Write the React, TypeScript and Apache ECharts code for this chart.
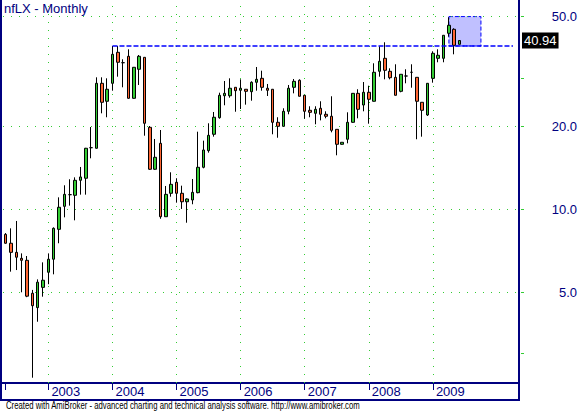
import React, { useEffect, useRef } from "react";
import * as echarts from "echarts";

// ---- data ----
const START_YEAR = 2002;
const START_MONTH = 5;
const MONTH_COUNT = 97; // axis runs past the data, like the reference
const LAST_LABEL_YEAR = "2009";
const categories: string[] = [];
for (let i = 0; i < MONTH_COUNT; i++) {
  const m = START_MONTH - 1 + i;
  const y = START_YEAR + Math.floor(m / 12);
  const mm = (m % 12) + 1;
  categories.push(`${y}-${String(mm).padStart(2, "0")}`);
}

const opens = [
  8.11, 7.53, 6.98, 6.64, 6.53, 4.96, 4.4, 5.21, 5.91, 6.59, 8.46, 10.25,
  11.3, 11.24, 12.74, 12.96, 16.73, 16.65, 28.64, 24.65,
  28.64, 37.1, 34.02, 35.89, 25.27, 32.2, 35.58, 19.83, 13.97, 17.35, 9.4, 11.43,
  12.53, 11.43, 10.65, 10.81, 11.49, 14.2, 16.32, 18.71, 21.49, 25.82, 25.82, 27.7,
  27.02, 27.25, 26.7, 28.88, 29.86, 27.48, 27.25, 20.68, 20.0, 22.67, 27.7, 29.37,
  25.91, 22.86, 22.29, 23.25, 22.11, 21.75, 19.5, 17.21, 17.95, 20.68, 26.34, 23.89,
  26.57, 24.65, 31.66, 35.29, 31.66, 30.11, 26.79, 30.44, 31.4, 30.11, 24.44, 21.98,
  29.86, 35.29, 35.29, 43.49, 44.97, 39.67,
];
const closes = [
  7.53, 6.98, 6.7, 6.53, 4.84, 4.47, 5.44, 5.53, 6.59, 8.53, 10.17, 11.33,
  11.3, 12.74, 13.1, 16.65, 16.73, 28.64, 24.44, 27.25,
  36.49, 34.14, 34.02, 25.27, 32.74, 35.89, 20.51, 13.97, 15.44, 9.4, 11.33, 12.32,
  11.43, 10.65, 10.9, 11.52, 14.2, 16.41, 18.55, 21.57, 25.91, 26.34, 27.48, 26.93,
  27.48, 26.79, 28.88, 29.61, 27.7, 27.02, 20.68, 20.0, 22.67, 27.48, 29.12, 25.7,
  22.67, 22.48, 23.05, 22.11, 21.75, 19.34, 17.21, 17.5, 20.68, 26.34, 23.05, 26.57,
  25.06, 31.4, 34.42, 31.93, 30.01, 25.91, 30.88, 30.44, 31.4, 24.65, 22.86, 28.64,
  36.8, 36.19, 42.77, 46.5, 39.34, 40.94,
];
const lows = [
  7.5, 5.94, 6.02, 5.0, 4.8, 2.45, 3.91, 4.82, 5.35, 5.81, 7.53, 9.35,
  10.31, 9.12, 11.3, 11.3, 15.31, 16.6, 22.29, 21.57,
  26.93, 30.27, 27.7, 25.2, 25.2, 28.24, 18.49, 13.9, 13.9, 9.24, 9.4, 11.11,
  10.57, 10.03, 8.94, 10.43, 11.43, 14.08, 16.05, 18.34, 21.31, 23.84, 25.4, 22.59,
  23.11, 23.96, 24.77, 26.93, 26.93, 25.76, 18.71, 18.18, 20.0, 22.11, 26.34, 25.7,
  21.31, 21.57, 20.34, 21.02, 21.38, 19.02, 15.7, 17.15, 17.35, 20.6, 21.38, 22.67,
  20.44, 24.6, 30.27, 29.61, 29.61, 25.9, 26.57, 28.64, 27.61, 17.95, 18.34, 21.8,
  28.79, 34.14, 34.14, 42.27, 36.49, 39.67,
];
const highs = [
  8.2, 8.53, 9.07, 6.92, 6.77, 5.1, 5.57, 6.42, 6.92, 8.6, 11.05, 12.22,
  12.85, 13.06, 14.24, 16.7, 19.88, 30.11, 30.11, 29.86,
  39.11, 39.11, 35.0, 38.04, 32.8, 36.28, 35.6, 20.05, 17.99, 19.39, 12.15, 13.62,
  12.96, 12.18, 10.96, 12.88, 19.12, 17.74, 20.51, 22.54, 26.48, 29.2, 29.86, 27.7,
  29.61, 27.3, 29.12, 32.82, 31.82, 28.48, 27.3, 21.57, 23.25, 28.24, 29.69, 29.61,
  25.91, 23.64, 23.64, 24.65, 22.67, 25.7, 19.5, 17.5, 22.48, 26.4, 27.25, 28.95,
  28.07, 33.85, 39.01, 40.34, 32.46, 33.57, 30.9, 32.2, 33.57, 30.11, 24.44, 28.7,
  37.42, 38.04, 42.8, 49.71, 45.35, 40.94,
];

const gridValues = [5, 10, 20, 50];
const tickValues = [3, 5, 10, 20, 30, 50];
const yearMarks = ["2003-01", "2004-01", "2005-01", "2006-01", "2007-01", "2008-01", "2009-01"];
const resistanceLevel = 39.11;
const resistanceFrom = "2004-01";
const resistanceTo = "2010-04";
const lastClose = 40.94;
const boxTop = 50;
const boxFrom = "2009-04";
const boxTo = "2009-10";
const Y_MIN = 2.344;
const Y_MAX = 57.43;

const TITLE = "nfLX - Monthly";
const FOOTER =
  "Created with AmiBroker - advanced charting and technical analysis software. http://www.amibroker.com";

const NAVY = "#000080";
const GREEN = "#33cc33";
const FONT = '"Liberation Sans", Arial, sans-serif';

export default function App() {
  const ref = useRef<HTMLDivElement>(null);
  useEffect(() => {
    if (!ref.current) return;
    const chart = echarts.init(ref.current, undefined, { renderer: "svg" });
    const candles = opens.map((o, i) => [o, closes[i], lows[i], highs[i]]);
    const isYearLabel = (_: number, v: string) =>
      v.endsWith("-01") && v.slice(0, 4) <= LAST_LABEL_YEAR;
    chart.setOption({
      animation: false,
      backgroundColor: "#ffffff",
      grid: { left: 3, top: 0, width: 518.1, height: 383, containLabel: false },
      xAxis: {
        type: "category",
        data: categories,
        boundaryGap: true,
        axisLine: { show: false },
        axisTick: {
          show: true,
          alignWithLabel: true,
          interval: (i: number, v: string) => i === 0 || isYearLabel(i, v),
          length: 7,
          lineStyle: { color: NAVY, width: 1 },
        },
        axisLabel: {
          interval: isYearLabel,
          formatter: (v: string) => v.slice(0, 4),
          align: "left",
          padding: [0, 0, 0, 3],
          margin: 2,
          color: NAVY,
          fontSize: 13,
          fontFamily: FONT,
        },
        splitLine: { show: false },
      },
      yAxis: [
        {
          type: "log",
          logBase: 10,
          min: Y_MIN,
          max: Y_MAX,
          axisLine: { show: false },
          axisTick: { show: false },
          axisLabel: { show: false },
          splitLine: { show: false },
        },
        {
          type: "value",
          position: "right",
          min: Math.log10(Y_MIN),
          max: Math.log10(Y_MAX),
          axisLine: { show: false },
          splitLine: { show: false },
          axisTick: {
            show: true,
            customValues: tickValues.map((v) => Math.log10(v)),
            length: 3,
            lineStyle: { color: GREEN },
          },
          axisLabel: {
            customValues: gridValues.map((v) => Math.log10(v)),
            formatter: (v: number) => Math.pow(10, v).toFixed(1),
            align: "right",
            margin: 56,
            color: NAVY,
            fontSize: 13,
            fontFamily: FONT,
          },
        },
      ],
      series: [
        {
          type: "candlestick",
          data: candles,
          barWidth: 3,
          z: 2,
          itemStyle: {
            color: GREEN,
            color0: "#ff6633",
            borderColor: "#000",
            borderColor0: "#000",
            borderColorDoji: "#000",
            borderWidth: 1,
          },
          markLine: {
            silent: true,
            z: 1,
            symbol: ["none", "none"],
            label: { show: false },
            lineStyle: { color: GREEN, type: [1, 7], width: 1 },
            data: [
              ...gridValues.map((v) => ({ yAxis: v })),
              ...yearMarks.map((c) => ({ xAxis: c })),
            ],
          },
          markArea: {
            silent: true,
            itemStyle: {
              color: "#c0c0ff",
              borderColor: "#0000ff",
              borderType: [4, 2],
              borderWidth: 1,
            },
            data: [[{ coord: [boxFrom, boxTop] }, { coord: [boxTo, resistanceLevel] }]],
          },
        },
        {
          type: "line",
          data: [],
          z: 5,
          markLine: {
            silent: true,
            z: 6,
            symbol: ["none", "none"],
            label: { show: false },
            lineStyle: { color: "#0000ff", type: [5, 2], width: 1.5 },
            data: [
              [
                { coord: [resistanceFrom, resistanceLevel] },
                { coord: [resistanceTo, resistanceLevel] },
              ],
            ],
          },
        },
        {
          type: "line",
          data: [],
          z: 6,
          markLine: {
            silent: true,
            z: 7,
            symbol: ["none", "none"],
            lineStyle: { color: "rgba(0,0,0,0)", width: 0 },
            data: [
              {
                yAxis: lastClose,
                label: {
                  show: true,
                  position: "end",
                  distance: 1,
                  formatter: lastClose.toFixed(2),
                  backgroundColor: "#000",
                  color: "#fff",
                  padding: [2, 2, 1, 2],
                  fontSize: 13,
                  fontFamily: FONT,
                },
              },
            ],
          },
        },
      ],
      graphic: [
        { type: "line", shape: { x1: 1, y1: 0, x2: 1, y2: 401 }, style: { stroke: NAVY, lineWidth: 2 } },
        { type: "line", shape: { x1: 519, y1: 0, x2: 519, y2: 401 }, style: { stroke: NAVY, lineWidth: 2 } },
        { type: "line", shape: { x1: 0, y1: 383, x2: 520, y2: 383 }, style: { stroke: NAVY, lineWidth: 2 } },
        { type: "line", shape: { x1: 0, y1: 400, x2: 520, y2: 400 }, style: { stroke: NAVY, lineWidth: 2 } },
        {
          type: "text",
          x: 4,
          y: 2,
          style: { text: TITLE, fill: NAVY, font: `13px ${FONT}`, verticalAlign: "top" },
        },
        {
          type: "text",
          x: 6,
          y: 401,
          scaleX: 0.775,
          style: { text: FOOTER, fill: "#000", font: `10px ${FONT}`, verticalAlign: "top" },
        },
      ],
    });
    return () => chart.dispose();
  }, []);
  return (
    <div
      ref={ref}
      style={{ position: "fixed", left: 0, top: 0, width: 580, height: 412, background: "#fff" }}
    />
  );
}
